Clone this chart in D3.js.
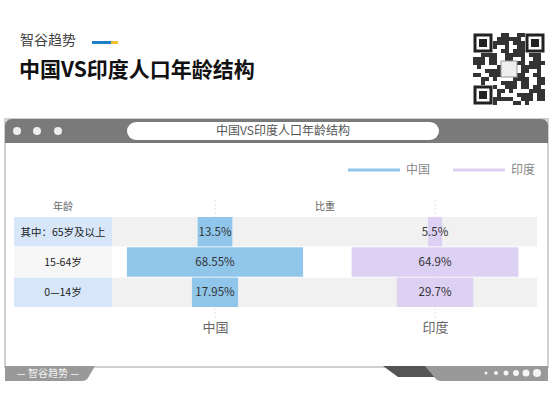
<!DOCTYPE html>
<html>
<head>
<meta charset="utf-8">
<script src="https://cdn.jsdelivr.net/npm/d3@7"></script>
<style>
  body { margin: 0; background: #fff; }
  text { font-family: "Noto Sans CJK SC", "Noto Sans", sans-serif; }
</style>
</head>
<body>
<div id="chart"></div>
<script>
const [svgW, svgH] = [553, 405];

const ageGroups = ['其中：65岁及以上', '15-64岁', '0—14岁'];
const countries = ['中国', '印度'];
const chinaShare = [13.5, 68.55, 17.95];
const indiaShare = [5.5, 64.9, 29.7];
const shareLabels = [['13.5%', '68.55%', '17.95%'], ['5.5%', '64.9%', '29.7%']];

const colors = { '中国': '#8fc6ea', '印度': '#dcd0f3' };

var svg = d3.select('#chart').append('svg').attr('width', svgW).attr('height', svgH);

// header
svg.append('text').attr('x', 20).attr('y', 45).attr('font-size', 14).attr('fill', '#444').text('智谷趋势');
svg.append('rect').attr('x', 92).attr('y', 41).attr('width', 19).attr('height', 3).attr('fill', '#1f7fc8');
svg.append('rect').attr('x', 111).attr('y', 41).attr('width', 7).attr('height', 3).attr('fill', '#f1c232');
svg.append('text').attr('x', 19).attr('y', 77).attr('font-size', 21).attr('font-weight', 'bold').attr('fill', '#111').text('中国VS印度人口年龄结构');

// qr code placeholder
var qr = svg.append('g').attr('transform', 'translate(473,33)');
qr.append('rect').attr('width', 72).attr('height', 72).attr('fill', '#fff');
[[0, 0], [52, 0], [0, 52]].forEach(function (p) {
    qr.append('rect').attr('x', p[0] + 2).attr('y', p[1] + 2).attr('width', 16).attr('height', 16)
        .attr('fill', 'none').attr('stroke', '#222').attr('stroke-width', 3);
    qr.append('rect').attr('x', p[0] + 6).attr('y', p[1] + 6).attr('width', 8).attr('height', 8).attr('fill', '#222');
});
var qrBits = '1011001101110100101100111010110101001011100110101101001110101100101101011010011101';
for (var i = 0; i < 18; i++) {
    for (var j = 0; j < 18; j++) {
        if ((i < 5 && j < 5) || (i < 5 && j > 12) || (i > 12 && j < 5)) continue;
        if (i >= 7 && i <= 10 && j >= 7 && j <= 10) continue;
        if (qrBits[(i * 18 + j * 7) % qrBits.length] === '1') {
            qr.append('rect').attr('x', j * 4).attr('y', i * 4).attr('width', 4).attr('height', 4).attr('fill', '#333');
        }
    }
}
qr.append('rect').attr('x', 28).attr('y', 28).attr('width', 16).attr('height', 16).attr('fill', '#eee').attr('stroke', '#999');

// window frame
svg.append('rect').attr('x', 5).attr('y', 119).attr('width', 543).attr('height', 248)
    .attr('fill', '#fff').attr('stroke', '#d0d0d0').attr('stroke-width', 2);
svg.append('path').attr('d', 'M5,143 V126 Q5,119 12,119 H541 Q548,119 548,126 V143 Z').attr('fill', '#7a7a7a');
[17, 37, 58].forEach(function (cx) {
    svg.append('circle').attr('cx', cx).attr('cy', 131).attr('r', 4).attr('fill', '#eee');
});
svg.append('rect').attr('x', 127).attr('y', 122).attr('width', 312).attr('height', 18).attr('rx', 9).attr('fill', '#fff');
svg.append('text').attr('x', 283).attr('y', 135).attr('text-anchor', 'middle').attr('font-size', 12).attr('fill', '#555').text('中国VS印度人口年龄结构');

// bottom bar
svg.append('path').attr('d', 'M5,366 H95 L88,378 Q86,381 82,381 H5 Z').attr('fill', '#999');
svg.append('text').attr('x', 48).attr('y', 377).attr('text-anchor', 'middle').attr('font-size', 10).attr('fill', '#f4f4f4').text('— 智谷趋势 —');
svg.append('path').attr('d', 'M383,366 H430 L436,377 H398 Z').attr('fill', '#555');
svg.append('path').attr('d', 'M425,366 H548 V381 H440 Q437,381 435,378 Z').attr('fill', '#999');
[[486, 1.5], [496, 2], [506, 2.5], [516, 3], [526, 3.5], [537, 4]].forEach(function (d) {
    svg.append('circle').attr('cx', d[0]).attr('cy', 373).attr('r', d[1]).attr('fill', '#f4f4f4');
});

// legend
countries.forEach(function (c, k) {
    var lx = 348 + k * 105;
    svg.append('line').attr('x1', lx).attr('x2', lx + 52).attr('y1', 170).attr('y2', 170)
        .attr('stroke', colors[c]).attr('stroke-width', 3);
    svg.append('text').attr('x', lx + 58).attr('y', 174).attr('font-size', 12).attr('fill', '#888').text(c);
});

// column headers
svg.append('text').attr('x', 63).attr('y', 210).attr('text-anchor', 'middle').attr('font-size', 10).attr('fill', '#666').text('年龄');
svg.append('text').attr('x', 325).attr('y', 210).attr('text-anchor', 'middle').attr('font-size', 10).attr('fill', '#666').text('比重');

// scales
var y = d3.scaleBand().domain(ageGroups).range([217, 307]).paddingInner(0.03);
var xCountry = d3.scalePoint().domain(countries).range([215, 435]);
var w = d3.scaleLinear().domain([0, 100]).range([0, 257]);

// row backgrounds
ageGroups.forEach(function (g, i) {
    svg.append('rect').attr('x', 14).attr('y', y(g)).attr('width', 98).attr('height', y.bandwidth())
        .attr('fill', i === 1 ? '#f7f7f7' : '#d7e6f8');
    if (i !== 1) {
        svg.append('rect').attr('x', 112).attr('y', y(g)).attr('width', 425).attr('height', y.bandwidth())
            .attr('fill', '#f1f1f1');
    }
    svg.append('text').attr('x', 63).attr('y', y(g) + y.bandwidth() / 2 + 4).attr('text-anchor', 'middle')
        .attr('font-size', 10.5).attr('fill', '#222').text(g);
});

// center guide lines
countries.forEach(function (c) {
    svg.append('line').attr('x1', xCountry(c)).attr('x2', xCountry(c)).attr('y1', 200).attr('y2', 318)
        .attr('stroke', '#e4e4e4').attr('stroke-dasharray', '2,2');
});

// bars
[chinaShare, indiaShare].forEach(function (series, k) {
    var c = countries[k];
    var cx = xCountry(c);
    svg.append('g').selectAll('rect').data(series).join('rect')
        .attr('x', function (d) { return cx - w(d) / 2; })
        .attr('y', function (d, i) { return y(ageGroups[i]); })
        .attr('width', function (d) { return w(d); })
        .attr('height', y.bandwidth())
        .attr('fill', colors[c]);
    svg.append('g').selectAll('text').data(series).join('text')
        .attr('x', cx)
        .attr('y', function (d, i) { return y(ageGroups[i]) + y.bandwidth() / 2 + 4; })
        .attr('text-anchor', 'middle').attr('font-size', 11.5).attr('fill', '#333')
        .attr('font-family', '"Liberation Sans", sans-serif')
        .text(function (d, i) { return shareLabels[k][i]; });
});

// x axis labels
var xAxis = d3.axisBottom(xCountry).tickSize(0).tickPadding(0);
var ax = svg.append('g').attr('transform', 'translate(0,323)').call(xAxis);
ax.select('.domain').remove();
ax.selectAll('text').attr('font-size', 13).attr('fill', '#666').attr('font-family', '"Noto Sans CJK SC", sans-serif');
</script>
</body>
</html>
